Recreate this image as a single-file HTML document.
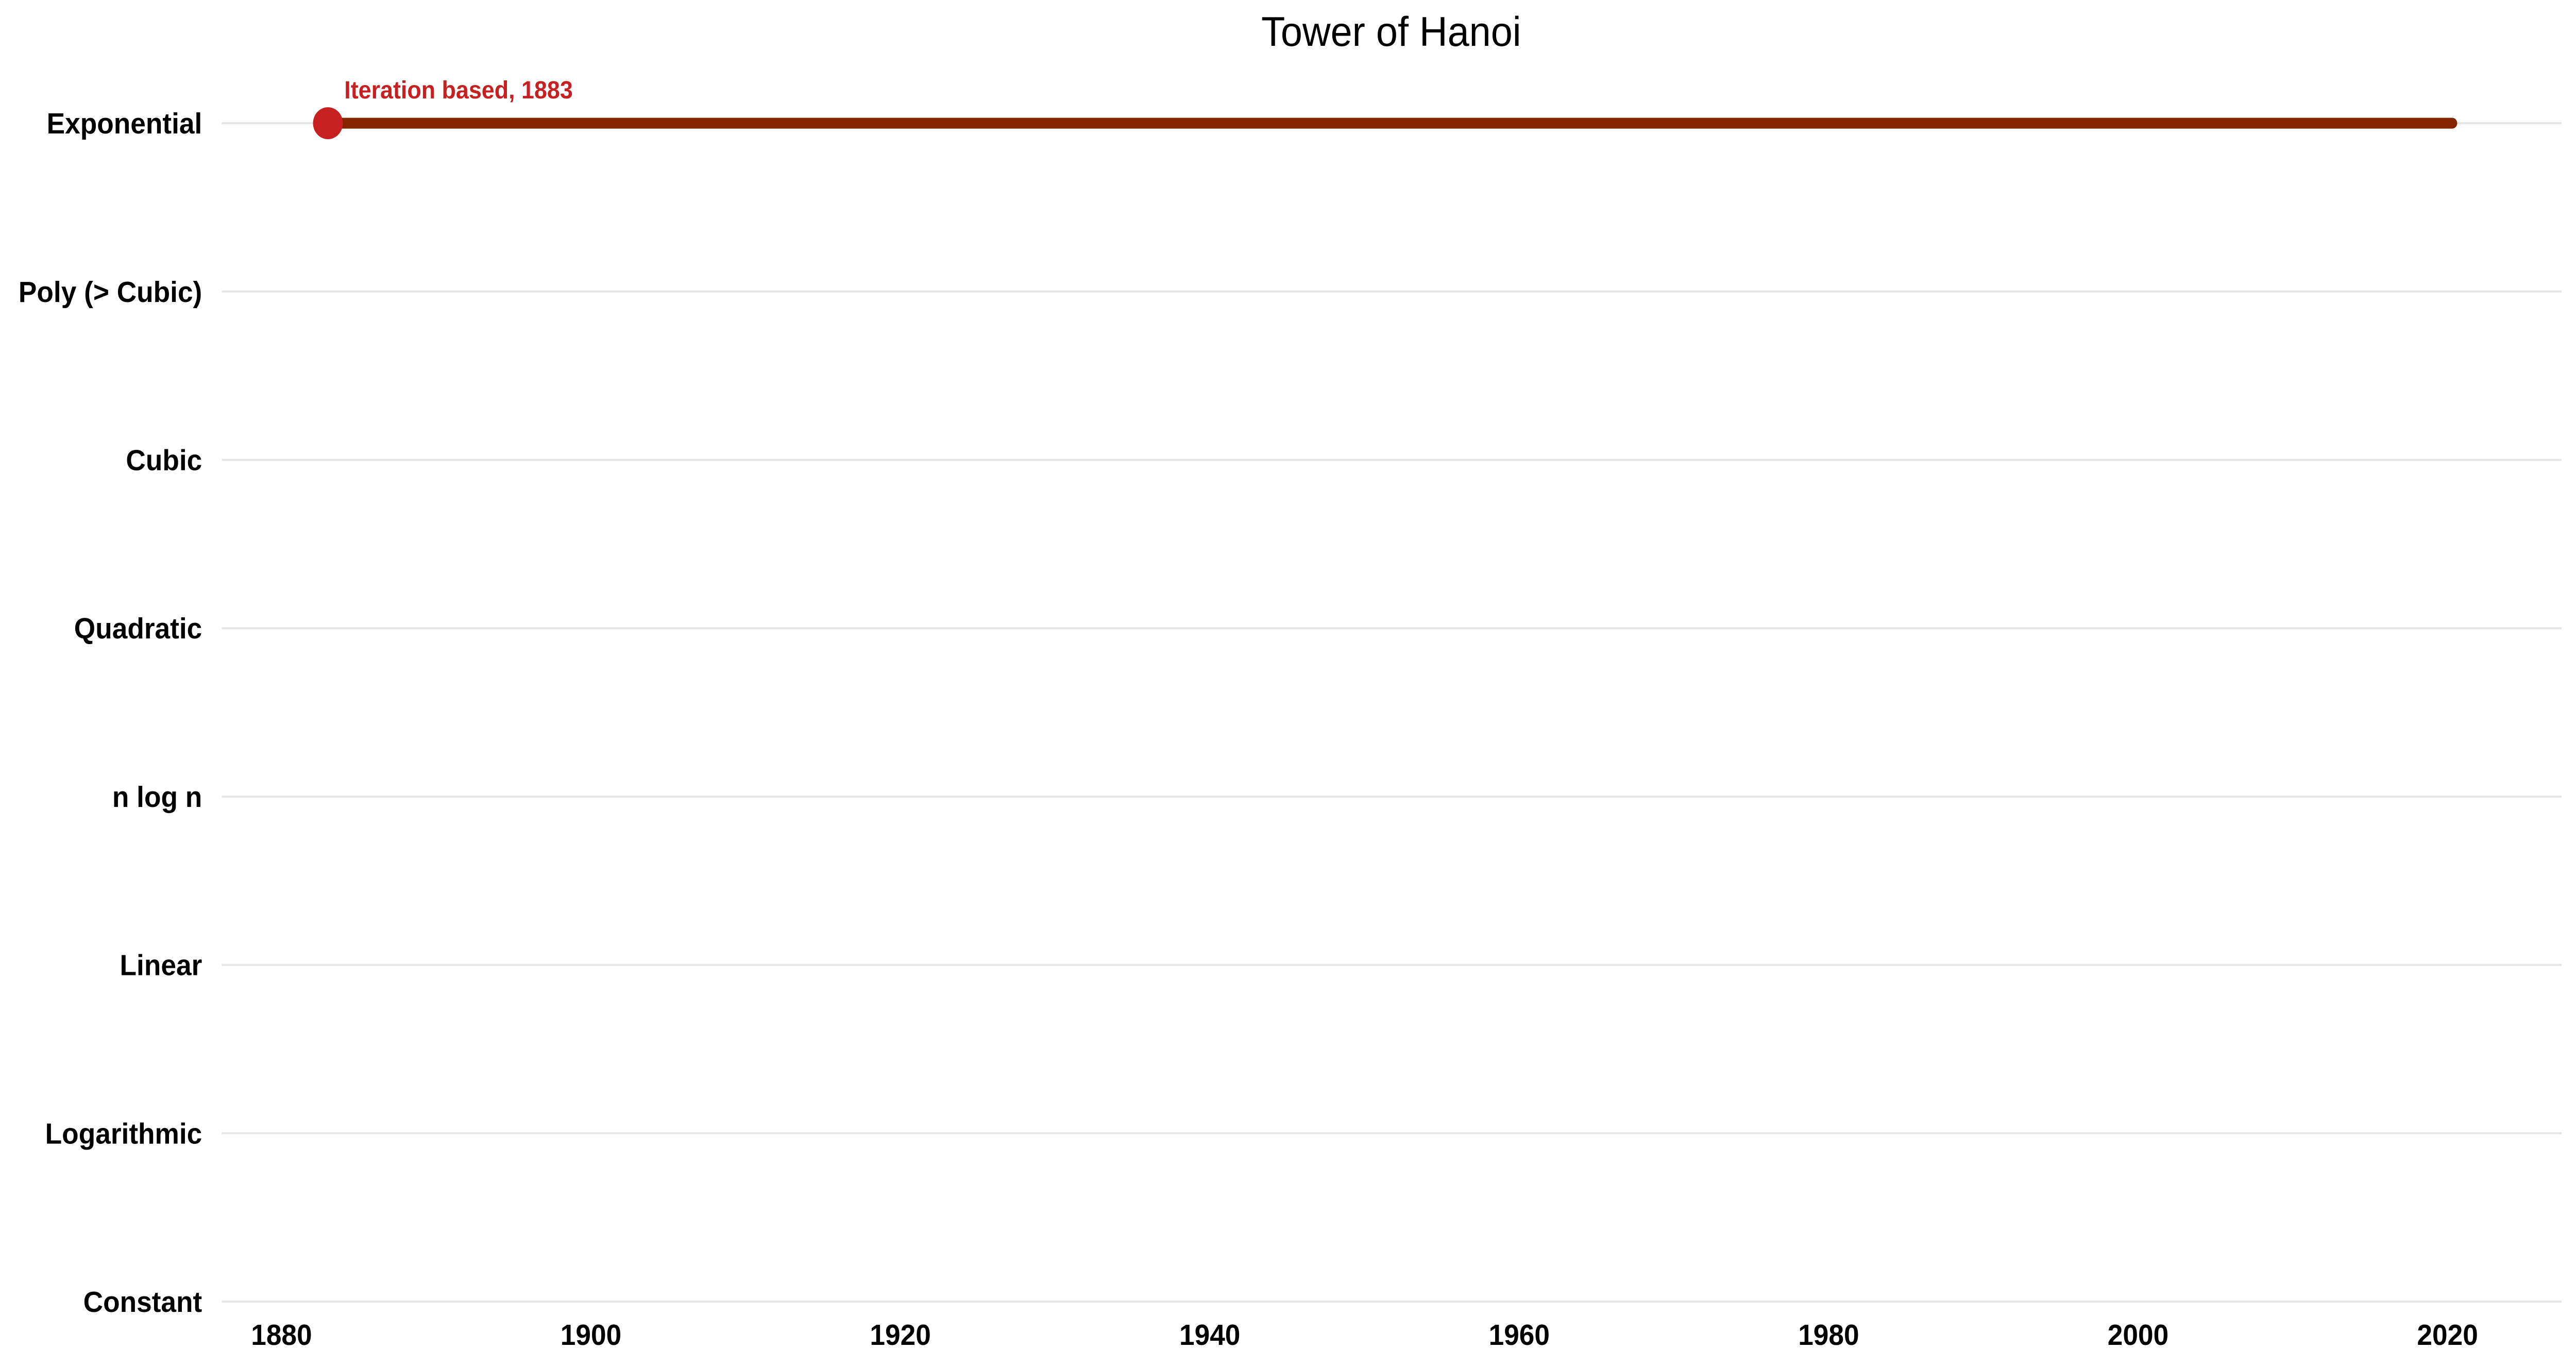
<!DOCTYPE html>
<html><head><meta charset="utf-8"><style>
html,body{margin:0;padding:0;background:#fff;overflow:hidden;width:100%;height:100%;}
svg{display:block;position:absolute;left:0;top:0;width:100vw;height:100vh;font-family:"Liberation Sans",Arial,sans-serif;}
</style></head><body>
<svg id="chart" viewBox="0 0 5353 2651" preserveAspectRatio="none">
<text x="2891" y="89" text-anchor="middle" font-size="81" fill="#000">Tower of Hanoi</text>
<g id="grid"></g><g id="ylabels"></g><g id="xlabels"></g><g id="marks"></g>
</svg>
<script>
const categories = ["Constant","Logarithmic","Linear","n log n","Quadratic","Cubic","Poly (> Cubic)","Exponential"];
const xTicks = [1880,1900,1920,1940,1960,1980,2000,2020];
const seriesCategory = ["Exponential"];
const seriesStart = [1883];
const seriesEnd = [2020.3];
const seriesLabel = ["Iteration based, 1883"];

const NS = "http://www.w3.org/2000/svg";
const x = yr => 585 + (yr - 1880) * 32.15;
const y = cat => 2526 - categories.indexOf(cat) * 326.7;
function mk(tag, attrs, parent){const e=document.createElementNS(NS,tag);for(const k in attrs)e.setAttribute(k,attrs[k]);parent.appendChild(e);return e;}
const grid=document.getElementById('grid'),yl=document.getElementById('ylabels'),xl=document.getElementById('xlabels'),marks=document.getElementById('marks');
categories.forEach(c=>{
  const l=mk('line',{x1:461,x2:5323,y1:y(c),y2:y(c),stroke:'#e5e5e5','stroke-width':4},grid);
  
  
  const t=mk('text',{x:420,y:y(c)+20,'text-anchor':'end','font-size':57,'font-weight':'bold',fill:'#000'},yl);
  t.textContent=c;
  
  
});
xTicks.forEach(v=>{
  const t=mk('text',{x:x(v),y:2610,'text-anchor':'middle','font-size':57,'font-weight':'bold',fill:'#000'},xl);
  t.textContent=v;
  
  
});
seriesCategory.forEach((c,i)=>{
  const ln=mk('line',{x1:x(seriesStart[i]),x2:x(seriesEnd[i]),y1:y(c),y2:y(c),stroke:'#842500','stroke-width':21,'stroke-linecap':'round'},marks);
  
  
  const p=mk('circle',{cx:x(seriesStart[i]),cy:y(c),r:31,fill:'#c62020'},marks);
  
  
  const t=mk('text',{x:x(seriesStart[i])+34,y:y(c)-48,'font-size':48,'font-weight':'bold',fill:'#c62020'},marks);
  t.textContent=seriesLabel[i];
  
  
});
</script>
</body></html>
